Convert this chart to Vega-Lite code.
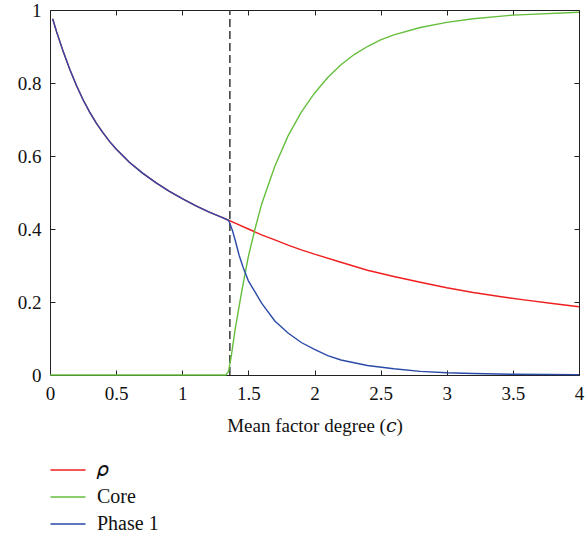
{
  "$schema": "https://vega.github.io/schema/vega-lite/v6.json",
  "width": 529,
  "height": 365,
  "autosize": "none",
  "padding": {"left": 50, "top": 10, "right": 8, "bottom": 167},
  "background": "white",
  "config": {
    "view": {"stroke": "#222", "strokeWidth": 1},
    "font": "Liberation Serif, DejaVu Serif",
    "axis": {"grid": false, "domain": false, "tickColor": "#222", "tickSize": -5, "labelFont": "Liberation Serif, DejaVu Serif", "titleFont": "Liberation Serif, DejaVu Serif", "labelFontSize": 19, "titleFontSize": 19, "labelColor": "#111", "titleColor": "#111", "titleFontWeight": "normal", "format": "~g", "labelFlush": false}
  },
  "datasets": {
    "curves": [
      {"series": "𝜌", "c": 0.02, "v": 0.976},
      {"series": "𝜌", "c": 0.05, "v": 0.94},
      {"series": "𝜌", "c": 0.1, "v": 0.886},
      {"series": "𝜌", "c": 0.15, "v": 0.837},
      {"series": "𝜌", "c": 0.2, "v": 0.793},
      {"series": "𝜌", "c": 0.25, "v": 0.754},
      {"series": "𝜌", "c": 0.3, "v": 0.72},
      {"series": "𝜌", "c": 0.35, "v": 0.69},
      {"series": "𝜌", "c": 0.4, "v": 0.664},
      {"series": "𝜌", "c": 0.45, "v": 0.64},
      {"series": "𝜌", "c": 0.5, "v": 0.619},
      {"series": "𝜌", "c": 0.6, "v": 0.583},
      {"series": "𝜌", "c": 0.7, "v": 0.553},
      {"series": "𝜌", "c": 0.8, "v": 0.527},
      {"series": "𝜌", "c": 0.9, "v": 0.504},
      {"series": "𝜌", "c": 1.0, "v": 0.483},
      {"series": "𝜌", "c": 1.1, "v": 0.464},
      {"series": "𝜌", "c": 1.2, "v": 0.447},
      {"series": "𝜌", "c": 1.3, "v": 0.432},
      {"series": "𝜌", "c": 1.35, "v": 0.424},
      {"series": "𝜌", "c": 1.4, "v": 0.416},
      {"series": "𝜌", "c": 1.5, "v": 0.4},
      {"series": "𝜌", "c": 1.6, "v": 0.384},
      {"series": "𝜌", "c": 1.7, "v": 0.37},
      {"series": "𝜌", "c": 1.8, "v": 0.356},
      {"series": "𝜌", "c": 1.9, "v": 0.343},
      {"series": "𝜌", "c": 2.0, "v": 0.331},
      {"series": "𝜌", "c": 2.2, "v": 0.309},
      {"series": "𝜌", "c": 2.4, "v": 0.287},
      {"series": "𝜌", "c": 2.6, "v": 0.27},
      {"series": "𝜌", "c": 2.8, "v": 0.254},
      {"series": "𝜌", "c": 3.0, "v": 0.239},
      {"series": "𝜌", "c": 3.2, "v": 0.226},
      {"series": "𝜌", "c": 3.4, "v": 0.215},
      {"series": "𝜌", "c": 3.6, "v": 0.205},
      {"series": "𝜌", "c": 3.8, "v": 0.196},
      {"series": "𝜌", "c": 4.0, "v": 0.187},
      {"series": "Core", "c": 0.0, "v": 0.0},
      {"series": "Core", "c": 1.0, "v": 0.0},
      {"series": "Core", "c": 1.33, "v": 0.0},
      {"series": "Core", "c": 1.35, "v": 0.01},
      {"series": "Core", "c": 1.37, "v": 0.05},
      {"series": "Core", "c": 1.4, "v": 0.125},
      {"series": "Core", "c": 1.45, "v": 0.23},
      {"series": "Core", "c": 1.5, "v": 0.325},
      {"series": "Core", "c": 1.55, "v": 0.4},
      {"series": "Core", "c": 1.6, "v": 0.468},
      {"series": "Core", "c": 1.7, "v": 0.572},
      {"series": "Core", "c": 1.8, "v": 0.655},
      {"series": "Core", "c": 1.9, "v": 0.72},
      {"series": "Core", "c": 2.0, "v": 0.772},
      {"series": "Core", "c": 2.1, "v": 0.815},
      {"series": "Core", "c": 2.2, "v": 0.85},
      {"series": "Core", "c": 2.3, "v": 0.878},
      {"series": "Core", "c": 2.4, "v": 0.9},
      {"series": "Core", "c": 2.5, "v": 0.918},
      {"series": "Core", "c": 2.6, "v": 0.932},
      {"series": "Core", "c": 2.8, "v": 0.952},
      {"series": "Core", "c": 3.0, "v": 0.966},
      {"series": "Core", "c": 3.2, "v": 0.976},
      {"series": "Core", "c": 3.5, "v": 0.986},
      {"series": "Core", "c": 4.0, "v": 0.994},
      {"series": "Phase 1", "c": 0.02, "v": 0.976},
      {"series": "Phase 1", "c": 0.05, "v": 0.94},
      {"series": "Phase 1", "c": 0.1, "v": 0.886},
      {"series": "Phase 1", "c": 0.15, "v": 0.837},
      {"series": "Phase 1", "c": 0.2, "v": 0.793},
      {"series": "Phase 1", "c": 0.25, "v": 0.754},
      {"series": "Phase 1", "c": 0.3, "v": 0.72},
      {"series": "Phase 1", "c": 0.35, "v": 0.69},
      {"series": "Phase 1", "c": 0.4, "v": 0.664},
      {"series": "Phase 1", "c": 0.45, "v": 0.64},
      {"series": "Phase 1", "c": 0.5, "v": 0.619},
      {"series": "Phase 1", "c": 0.6, "v": 0.583},
      {"series": "Phase 1", "c": 0.7, "v": 0.553},
      {"series": "Phase 1", "c": 0.8, "v": 0.527},
      {"series": "Phase 1", "c": 0.9, "v": 0.504},
      {"series": "Phase 1", "c": 1.0, "v": 0.483},
      {"series": "Phase 1", "c": 1.1, "v": 0.464},
      {"series": "Phase 1", "c": 1.2, "v": 0.447},
      {"series": "Phase 1", "c": 1.3, "v": 0.432},
      {"series": "Phase 1", "c": 1.35, "v": 0.424},
      {"series": "Phase 1", "c": 1.36, "v": 0.415},
      {"series": "Phase 1", "c": 1.38, "v": 0.395},
      {"series": "Phase 1", "c": 1.4, "v": 0.37},
      {"series": "Phase 1", "c": 1.43, "v": 0.328},
      {"series": "Phase 1", "c": 1.46, "v": 0.295},
      {"series": "Phase 1", "c": 1.5, "v": 0.258},
      {"series": "Phase 1", "c": 1.55, "v": 0.228},
      {"series": "Phase 1", "c": 1.6, "v": 0.197},
      {"series": "Phase 1", "c": 1.7, "v": 0.148},
      {"series": "Phase 1", "c": 1.8, "v": 0.115},
      {"series": "Phase 1", "c": 1.9, "v": 0.089},
      {"series": "Phase 1", "c": 2.0, "v": 0.07},
      {"series": "Phase 1", "c": 2.1, "v": 0.053},
      {"series": "Phase 1", "c": 2.2, "v": 0.041},
      {"series": "Phase 1", "c": 2.4, "v": 0.026},
      {"series": "Phase 1", "c": 2.6, "v": 0.017},
      {"series": "Phase 1", "c": 2.8, "v": 0.01},
      {"series": "Phase 1", "c": 3.0, "v": 0.006},
      {"series": "Phase 1", "c": 3.2, "v": 0.004},
      {"series": "Phase 1", "c": 3.5, "v": 0.002},
      {"series": "Phase 1", "c": 4.0, "v": 0.001}
    ],
    "threshold": [{"c": 1.36, "lo": 0, "hi": 1}]
  },
  "layer": [
    {
      "data": {"name": "threshold"},
      "mark": {"type": "rule", "color": "#444", "strokeWidth": 1.6, "strokeDash": [8, 4]},
      "encoding": {
        "x": {"field": "c", "type": "quantitative", "scale": {"domain": [0, 4], "nice": false}, "axis": {"orient": "top", "labels": false, "title": null, "values": [0, 0.5, 1, 1.5, 2, 2.5, 3, 3.5, 4]}},
        "y": {"field": "lo", "type": "quantitative", "scale": {"domain": [0, 1], "nice": false}, "axis": {"orient": "right", "labels": false, "title": null, "values": [0, 0.2, 0.4, 0.6, 0.8, 1]}},
        "y2": {"field": "hi"}
      }
    },
    {
      "data": {"name": "curves"},
      "mark": {"type": "line", "strokeWidth": 1.4},
      "encoding": {
        "x": {"field": "c", "type": "quantitative", "scale": {"domain": [0, 4], "nice": false}, "axis": {"orient": "bottom", "title": "Mean factor degree (𝑐)", "values": [0, 0.5, 1, 1.5, 2, 2.5, 3, 3.5, 4], "labelPadding": 14, "titlePadding": 13}},
        "y": {"field": "v", "type": "quantitative", "scale": {"domain": [0, 1], "nice": false}, "axis": {"orient": "left", "title": null, "values": [0, 0.2, 0.4, 0.6, 0.8, 1], "labelPadding": 14}},
        "color": {
          "field": "series", "type": "nominal",
          "scale": {"domain": ["𝜌", "Core", "Phase 1"], "range": ["#f01e1e", "#66bf3c", "#2b4aa8"]},
          "legend": {"title": null, "orient": "none", "legendX": 8, "legendY": 450, "direction": "vertical", "symbolType": "M-2,0H2", "symbolSize": 306, "symbolStrokeWidth": 1.6, "labelFont": "Liberation Serif, DejaVu Serif", "labelFontSize": 20, "labelColor": "#111", "labelOffset": 19, "rowPadding": 7}
        }
      }
    }
  ],
  "resolve": {"axis": {"x": "independent", "y": "independent"}}
}
